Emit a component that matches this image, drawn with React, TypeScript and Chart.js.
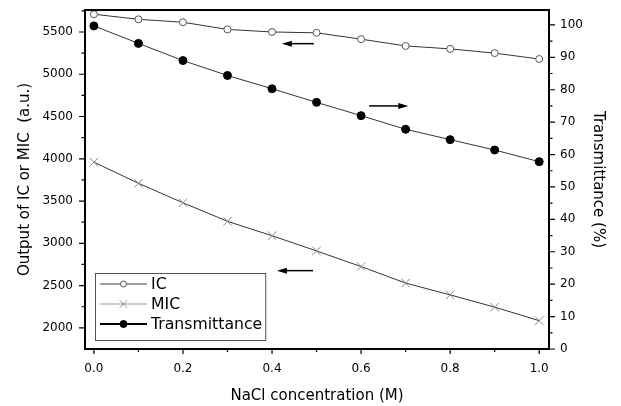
import React, { useEffect, useRef } from 'react';
import { Chart, registerables } from 'chart.js';

Chart.register(...registerables);

// ---- data ----
const concentrations = [0.0, 0.1, 0.2, 0.3, 0.4, 0.5, 0.6, 0.7, 0.8, 0.9, 1.0];
const icOutput = [5710, 5650, 5615, 5530, 5500, 5490, 5415, 5335, 5300, 5250, 5180];
const micOutput = [3960, 3710, 3480, 3260, 3090, 2910, 2725, 2530, 2390, 2245, 2085];
const transmittance = [99.7, 94.3, 89.0, 84.4, 80.3, 76.1, 72.0, 67.8, 64.6, 61.4, 57.8];

const xTickValues = [0.0, 0.2, 0.4, 0.6, 0.8, 1.0];
const xMinorValues = [0.1, 0.3, 0.5, 0.7, 0.9];
const leftTickValues = [2000, 2500, 3000, 3500, 4000, 4500, 5000, 5500];
const leftMinorValues = [2250, 2750, 3250, 3750, 4250, 4750, 5250, 5750];
const rightTickValues = [0, 10, 20, 30, 40, 50, 60, 70, 80, 90, 100];
const rightMinorValues = [5, 15, 25, 35, 45, 55, 65, 75, 85, 95];

// arrows (data coordinates): tail x, head x, y value, axis
const arrowTailX = [0.494, 0.618, 0.492];
const arrowHeadX = [0.422, 0.706, 0.411];
const arrowY = [5362, 75.0, 2677];
const arrowAxis = ['y', 'y2', 'y'];

const FONT = 'DejaVu Sans';

function drawMarker(ctx: CanvasRenderingContext2D, style: string, x: number, y: number, r: number, fill: string, stroke: string) {
  ctx.save();
  ctx.lineWidth = 1;
  ctx.strokeStyle = stroke;
  ctx.fillStyle = fill;
  if (style === 'crossRot') {
    const d = r * 0.75;
    ctx.beginPath();
    ctx.moveTo(x - d, y - d); ctx.lineTo(x + d, y + d);
    ctx.moveTo(x + d, y - d); ctx.lineTo(x - d, y + d);
    ctx.stroke();
  } else {
    ctx.beginPath();
    ctx.arc(x, y, r, 0, Math.PI * 2);
    ctx.fill();
    ctx.stroke();
  }
  ctx.restore();
}

const zeroPad = (s: any) => { s.paddingTop = 0; s.paddingBottom = 0; s.paddingLeft = 0; s.paddingRight = 0; };

const decorPlugin = {
  id: 'decor',
  afterDraw(chart: any) {
    const { ctx, chartArea: ca, scales } = chart;
    const xs = scales.x, yl = scales.y, yr = scales.y2;
    ctx.save();
    ctx.strokeStyle = '#000';
    ctx.fillStyle = '#000';

    // tick marks
    ctx.lineWidth = 1.2;
    ctx.beginPath();
    xTickValues.forEach((v) => { const p = xs.getPixelForValue(v); ctx.moveTo(p, ca.bottom); ctx.lineTo(p, ca.bottom + 5); });
    xMinorValues.forEach((v) => { const p = xs.getPixelForValue(v); ctx.moveTo(p, ca.bottom); ctx.lineTo(p, ca.bottom + 3); });
    leftTickValues.forEach((v) => { const p = yl.getPixelForValue(v); ctx.moveTo(ca.left, p); ctx.lineTo(ca.left - 6, p); });
    leftMinorValues.forEach((v) => { const p = yl.getPixelForValue(v); ctx.moveTo(ca.left, p); ctx.lineTo(ca.left - 3.5, p); });
    rightTickValues.forEach((v) => { const p = yr.getPixelForValue(v); ctx.moveTo(ca.right, p); ctx.lineTo(ca.right + 6, p); });
    rightMinorValues.forEach((v) => { const p = yr.getPixelForValue(v); ctx.moveTo(ca.right, p); ctx.lineTo(ca.right + 3.5, p); });
    ctx.stroke();

    // frame
    ctx.lineWidth = 2;
    ctx.strokeRect(ca.left, ca.top, ca.right - ca.left, ca.bottom - ca.top);

    // arrows
    arrowTailX.forEach((tx, i) => {
      const ys = arrowAxis[i] === 'y' ? yl : yr;
      const y = ys.getPixelForValue(arrowY[i]);
      const x1 = xs.getPixelForValue(tx);
      const x2 = xs.getPixelForValue(arrowHeadX[i]);
      const dir = Math.sign(x2 - x1);
      ctx.lineWidth = 1.5;
      ctx.beginPath();
      ctx.moveTo(x1, y);
      ctx.lineTo(x2 - dir * 8, y);
      ctx.stroke();
      ctx.beginPath();
      ctx.moveTo(x2, y);
      ctx.lineTo(x2 - dir * 10, y - 3);
      ctx.lineTo(x2 - dir * 10, y + 3);
      ctx.closePath();
      ctx.fill();
    });

    // legend
    const datasets = chart.data.datasets;
    ctx.font = `15.7px "${FONT}"`;
    let maxW = 0;
    datasets.forEach((d: any) => { maxW = Math.max(maxW, ctx.measureText(d.label).width); });
    const boxH = 67;
    const left = ca.left + 10;
    const top = ca.bottom - 9 - boxH;
    const boxW = 56 + maxW + 3;
    ctx.fillStyle = '#fff';
    ctx.fillRect(left, top, boxW, boxH);
    ctx.lineWidth = 1;
    ctx.strokeStyle = '#555';
    ctx.strokeRect(left + 0.5, top + 0.5, boxW, boxH);
    datasets.forEach((d: any, i: number) => {
      const y = top + 11 + i * 20;
      ctx.strokeStyle = d.legendLineColor;
      ctx.lineWidth = d.legendLineWidth;
      ctx.beginPath();
      ctx.moveTo(left + 5, y);
      ctx.lineTo(left + 52, y);
      ctx.stroke();
      drawMarker(ctx, d.pointStyle, left + 28.5, y, d.legendRadius, d.pointBackgroundColor, d.pointBorderColor);
      ctx.fillStyle = '#000';
      ctx.textAlign = 'left';
      ctx.textBaseline = 'middle';
      ctx.fillText(d.label, left + 56, y + 1);
    });
    ctx.restore();
  },
};

export default function App() {
  const ref = useRef<HTMLCanvasElement>(null);
  useEffect(() => {
    if (!ref.current) return;
    Chart.defaults.font.family = FONT;
    Chart.defaults.color = '#000';
    const chart = new Chart(ref.current, {
      type: 'line',
      data: {
        datasets: [
          {
            label: 'IC',
            data: concentrations.map((x, i) => ({ x, y: icOutput[i] })),
            yAxisID: 'y',
            borderColor: '#333',
            borderWidth: 1,
            pointStyle: 'circle',
            pointRadius: 3.5,
            pointBorderWidth: 1,
            pointBackgroundColor: '#fff',
            pointBorderColor: '#555',
            legendLineColor: '#444',
            legendLineWidth: 1,
            legendRadius: 3,
          } as any,
          {
            label: 'MIC',
            data: concentrations.map((x, i) => ({ x, y: micOutput[i] })),
            yAxisID: 'y',
            borderColor: '#333',
            borderWidth: 1,
            pointStyle: 'crossRot',
            pointRadius: 6,
            pointBorderWidth: 1,
            pointBackgroundColor: '#fff',
            pointBorderColor: '#888',
            legendLineColor: '#999',
            legendLineWidth: 1,
            legendRadius: 5,
          } as any,
          {
            label: 'Transmittance',
            data: concentrations.map((x, i) => ({ x, y: transmittance[i] })),
            yAxisID: 'y2',
            borderColor: '#333',
            borderWidth: 1,
            pointStyle: 'circle',
            pointRadius: 4,
            pointBorderWidth: 1,
            pointBackgroundColor: '#000',
            pointBorderColor: '#000',
            legendLineColor: '#000',
            legendLineWidth: 2,
            legendRadius: 3.5,
          } as any,
        ],
      },
      options: {
        responsive: false,
        animation: false,
        layout: { padding: { top: 10, left: 0, right: 0, bottom: 0 }, autoPadding: false },
        plugins: { legend: { display: false }, tooltip: { enabled: false } },
        scales: {
          x: {
            type: 'linear',
            min: -0.02,
            max: 1.022,
            afterBuildTicks: (s: any) => { s.ticks = xTickValues.map((v) => ({ value: v })); },
            afterFit: (s: any) => { s.height = 57; zeroPad(s); },
            ticks: { callback: (v: any) => Number(v).toFixed(1), font: { size: 12 }, padding: 13, maxRotation: 0, autoSkip: false },
            grid: { display: false, drawTicks: false },
            border: { display: false },
            title: { display: true, text: 'NaCl concentration (M)', font: { size: 15 }, padding: { top: 0, bottom: 1 } },
          },
          y: {
            type: 'linear',
            position: 'left',
            min: 1750,
            max: 5760,
            afterBuildTicks: (s: any) => { s.ticks = leftTickValues.map((v) => ({ value: v })); },
            afterFit: (s: any) => { s.width = 85; zeroPad(s); },
            ticks: { callback: (v: any) => String(v), font: { size: 12 }, padding: 12, autoSkip: false },
            grid: { display: false, drawTicks: false },
            border: { display: false },
            title: { display: true, text: 'Output of IC or MIC  (a.u.)', font: { size: 15 }, padding: { top: 16, bottom: 0 } },
          },
          y2: {
            type: 'linear',
            position: 'right',
            min: 0,
            max: 104.6,
            afterBuildTicks: (s: any) => { s.ticks = rightTickValues.map((v) => ({ value: v })); },
            afterFit: (s: any) => { s.width = 72; zeroPad(s); },
            ticks: { callback: (v: any) => String(v), font: { size: 12 }, padding: 11, autoSkip: false },
            grid: { display: false, drawTicks: false },
            border: { display: false },
            title: { display: true, text: 'Transmittance (%)', font: { size: 15 }, padding: { top: 14, bottom: 0 } },
          },
        },
      } as any,
      plugins: [decorPlugin],
    });
    return () => chart.destroy();
  }, []);
  return (
    <canvas
      ref={ref}
      width={621}
      height={406}
      style={{ position: 'absolute', left: 0, top: 0, display: 'block', background: '#fff' }}
    />
  );
}
